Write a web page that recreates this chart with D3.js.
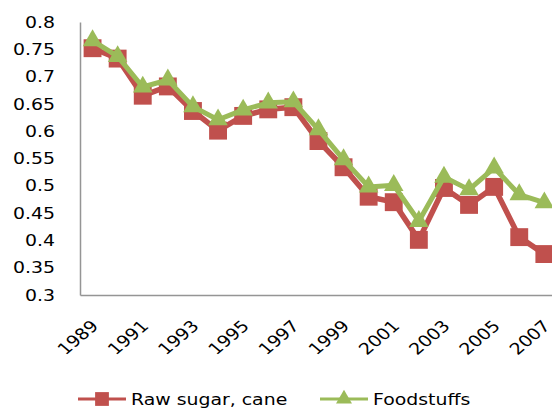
<!DOCTYPE html>
<html>
<head>
<meta charset="utf-8">
<script src="https://cdn.jsdelivr.net/npm/d3@7"></script>
<style>
  body { margin: 0; background: #fff; }
  text { font-family: "DejaVu Sans", Verdana, sans-serif; fill: #000; }
</style>
</head>
<body>
<div id="chart"></div>
<script>
const years = [1989, 1990, 1991, 1992, 1993, 1994, 1995, 1996, 1997, 1998,
  1999, 2000, 2001, 2002, 2003, 2004, 2005, 2006, 2007]
const rawSugar = [0.752, 0.733, 0.665, 0.682, 0.637, 0.601, 0.628, 0.640, 0.644, 0.582,
  0.534, 0.480, 0.470, 0.401, 0.496, 0.465, 0.498, 0.406, 0.375]
const foodstuffs = [0.766, 0.737, 0.681, 0.694, 0.645, 0.621, 0.639, 0.652, 0.654, 0.603,
  0.548, 0.498, 0.501, 0.435, 0.516, 0.493, 0.533, 0.484, 0.469]
const yTicks = [0.3, 0.35, 0.4, 0.45, 0.5, 0.55, 0.6, 0.65, 0.7, 0.75, 0.8]
const xTickYears = [1989, 1991, 1993, 1995, 1997, 1999, 2001, 2003, 2005, 2007]

const series = [
  {name: 'Raw sugar, cane', values: rawSugar, color: '#C0504D', symbol: d3.symbolSquare, size: 320, legendSize: 190, width: 5.5},
  {name: 'Foodstuffs', values: foodstuffs, color: '#9BBB59', symbol: d3.symbolTriangle, size: 165, legendSize: 110, width: 5}
]

const W = 552, H = 408
const chart = {left: 80, top: 22, bottom: 295, band: 25.1}
const stretch = 1.18

const svg = d3.select('#chart').append('svg')
  .attr('width', W)
  .attr('height', H)

const x = d3.scaleBand()
  .domain(years)
  .range([chart.left, chart.left + chart.band * years.length])

const cx = d => x(d) + x.bandwidth() / 2

const y = d3.scaleLinear()
  .domain([0.3, 0.8])
  .range([chart.bottom, chart.top])

// y axis
const yAxis = svg.append('g')
  .attr('transform', `translate(${chart.left},0)`)
  .call(d3.axisLeft(y).tickValues(yTicks).tickSize(0).tickPadding(25).tickFormat(d => String(+d.toFixed(2))))
yAxis.select('.domain').attr('stroke', '#959595').attr('stroke-width', 1.5)
yAxis.selectAll('text')
  .attr('font-size', 16)
  .attr('font-family', '"DejaVu Sans", Verdana, sans-serif')
  .attr('x', -25 / stretch)
  .attr('transform', `scale(${stretch},1)`)

// x axis
const xAxis = svg.append('g')
  .attr('transform', `translate(0,${chart.bottom})`)
  .call(d3.axisBottom(x).tickValues(xTickYears).tickSize(0).tickSizeOuter(0))
xAxis.select('.domain').attr('stroke', '#959595').attr('stroke-width', 1.5)
xAxis.selectAll('text')
  .attr('font-size', 16)
  .attr('font-family', '"DejaVu Sans", Verdana, sans-serif')
  .attr('text-anchor', 'end')
  .attr('x', 0)
  .attr('y', 0)
  .attr('dy', 0)
  .attr('transform', `translate(7,32) scale(${stretch},1) rotate(-45)`)

// series
const line = d3.line()
  .x((d, i) => cx(years[i]))
  .y(d => y(d))

series.forEach(s => {
  const g = svg.append('g')
  g.append('path')
    .datum(s.values)
    .attr('fill', 'none')
    .attr('stroke', s.color)
    .attr('stroke-width', s.width)
    .attr('stroke-linejoin', 'round')
    .attr('d', line)
  g.selectAll('path.marker')
    .data(s.values)
    .enter()
      .append('path')
      .attr('class', 'marker')
      .attr('fill', s.color)
      .attr('d', d3.symbol(s.symbol, s.size))
      .attr('transform', (d, i) => `translate(${cx(years[i])},${y(d)})`)
})

// legend
const legendPos = [{x: 78}, {x: 320}]
const legendY = 399
series.forEach((s, i) => {
  const lx = legendPos[i].x
  const g = svg.append('g')
  g.append('line')
    .attr('x1', lx).attr('x2', lx + 48)
    .attr('y1', legendY).attr('y2', legendY)
    .attr('stroke', s.color)
    .attr('stroke-width', 3)
  g.append('path')
    .attr('fill', s.color)
    .attr('d', d3.symbol(s.symbol, s.legendSize))
    .attr('transform', `translate(${lx + 24},${legendY})`)
  g.append('text')
    .attr('font-size', 16)
    .attr('dy', '0.35em')
    .attr('transform', `translate(${lx + 53},${legendY}) scale(${stretch},1)`)
    .text(s.name)
})
</script>
</body>
</html>
